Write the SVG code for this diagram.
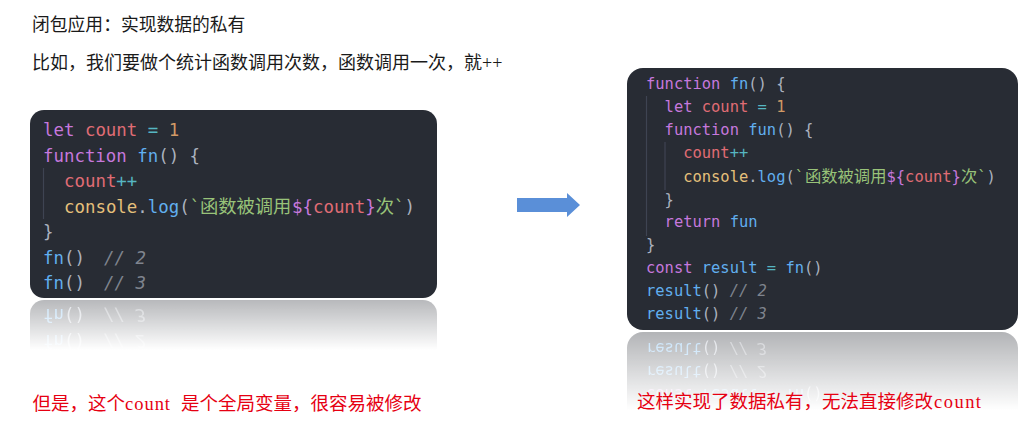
<svg xmlns="http://www.w3.org/2000/svg" xmlns:xlink="http://www.w3.org/1999/xlink" width="1031" height="426" viewBox="0 0 1031 426">
<style>
.code{font-family:"DejaVu Sans Mono","Liberation Mono",monospace;white-space:pre;}
.cl{font-size:17.4px;}
.cr{font-size:15.45px;}
.cjk{font-family:"Noto Sans CJK SC",sans-serif;}
.k{fill:#c678dd}.v{fill:#e06c75}.o{fill:#56b6c2}.n{fill:#d19a66}.f{fill:#61afef}.p{fill:#abb2bf}.y{fill:#e5c07b}.s{fill:#98c379}.c{fill:#7f848e;font-style:italic}
.box{fill:#282c34}
.guide{stroke:#3e4452;stroke-width:1.2}
.title{font-family:"Noto Sans CJK SC",sans-serif;fill:#1a1a1a}
.cap{font-family:"Noto Sans CJK SC",sans-serif;fill:#e60012;font-size:18.5px}
.lat{font-family:"Liberation Serif",serif}
</style>
<defs>
<linearGradient id="fadeL" x1="0" y1="299" x2="0" y2="350" gradientUnits="userSpaceOnUse">
<stop offset="0" stop-color="#fff" stop-opacity="0.34"/>
<stop offset="1" stop-color="#fff" stop-opacity="0"/>
</linearGradient>
<linearGradient id="fadeR" x1="0" y1="331" x2="0" y2="410" gradientUnits="userSpaceOnUse">
<stop offset="0" stop-color="#fff" stop-opacity="0.36"/>
<stop offset="1" stop-color="#fff" stop-opacity="0"/>
</linearGradient>
<mask id="mL" maskUnits="userSpaceOnUse" x="0" y="299" width="1031" height="60">
<rect x="0" y="299" width="1031" height="60" fill="url(#fadeL)"/>
</mask>
<mask id="mR" maskUnits="userSpaceOnUse" x="0" y="331" width="1031" height="85">
<rect x="0" y="331" width="1031" height="85" fill="url(#fadeR)"/>
</mask>
</defs>
<rect width="1031" height="426" fill="#fff"/>

<g id="title">
<text class="title" x="32" y="31" font-size="17.8">闭包应用：实现数据的私有</text>
</g>
<g id="subtitle">
<text class="title" x="32" y="69" font-size="18">比如，我们要做个统计函数调用次数，函数调用一次，就<tspan class="lat">++</tspan></text>
</g>

<g id="left-code">
<rect class="box" x="30" y="110" width="407" height="188" rx="14"/>
<line class="guide" x1="43.5" y1="168" x2="43.5" y2="219"/>
<g class="code cl">
<text x="43" y="136"><tspan class="k">let</tspan> <tspan class="v">count</tspan> <tspan class="o">=</tspan> <tspan class="n">1</tspan></text>
<text x="43" y="161.5"><tspan class="k">function</tspan> <tspan class="f">fn</tspan><tspan class="p">() {</tspan></text>
<text x="64" y="187"><tspan class="v">count</tspan><tspan class="o">++</tspan></text>
<text x="64" y="212.5"><tspan class="y">console</tspan><tspan class="p">.</tspan><tspan class="f">log</tspan><tspan class="p">(</tspan><tspan class="s">`</tspan><tspan class="s cjk" x="200" font-size="18.3">函数被调用</tspan><tspan class="k" x="292">${</tspan><tspan class="v">count</tspan><tspan class="k">}</tspan><tspan class="s cjk" font-size="18.3">次</tspan><tspan class="s">`</tspan><tspan class="p">)</tspan></text>
<text x="43" y="238"><tspan class="p">}</tspan></text>
<text x="43" y="263.5"><tspan class="f">fn</tspan><tspan class="p">()</tspan><tspan class="c" x="104">// 2</tspan></text>
<text x="43" y="289"><tspan class="f">fn</tspan><tspan class="p">()</tspan><tspan class="c" x="104">// 3</tspan></text>
</g>
</g>
<g id="left-reflection" mask="url(#mL)">
<use href="#left-code" xlink:href="#left-code" transform="matrix(1 0 0 -1 0 598)"/>
</g>

<g id="connectors">
<polygon points="517,198 567,198 567,193 580,205 567,217 567,212 517,212" fill="#5a8fd8"/>
</g>

<g id="right-code">
<rect class="box" x="627" y="68" width="391" height="262" rx="16"/>
<line class="guide" x1="646.5" y1="96" x2="646.5" y2="236"/>
<line class="guide" x1="665" y1="142" x2="665" y2="190"/>
<g class="code cr">
<text x="646" y="89"><tspan class="k">function</tspan> <tspan class="f">fn</tspan><tspan class="p">() {</tspan></text>
<text x="664.6" y="112"><tspan class="k">let</tspan> <tspan class="v">count</tspan> <tspan class="o">=</tspan> <tspan class="n">1</tspan></text>
<text x="664.6" y="135"><tspan class="k">function</tspan> <tspan class="f">fun</tspan><tspan class="p">() {</tspan></text>
<text x="683.2" y="158"><tspan class="v">count</tspan><tspan class="o">++</tspan></text>
<text x="683.2" y="182"><tspan class="y">console</tspan><tspan class="p">.</tspan><tspan class="f">log</tspan><tspan class="p">(</tspan><tspan class="s">`</tspan><tspan class="s cjk" x="805" font-size="16.3">函数被调用</tspan><tspan class="k" x="886.5">${</tspan><tspan class="v">count</tspan><tspan class="k">}</tspan><tspan class="s cjk" font-size="16.3">次</tspan><tspan class="s">`</tspan><tspan class="p">)</tspan></text>
<text x="664.6" y="205"><tspan class="p">}</tspan></text>
<text x="664.6" y="227"><tspan class="k">return</tspan> <tspan class="f">fun</tspan></text>
<text x="646" y="250"><tspan class="p">}</tspan></text>
<text x="646" y="273"><tspan class="k">const</tspan> <tspan class="f">result</tspan> <tspan class="o">=</tspan> <tspan class="f">fn</tspan><tspan class="p">()</tspan></text>
<text x="646" y="296"><tspan class="f">result</tspan><tspan class="p">()</tspan> <tspan class="c">// 2</tspan></text>
<text x="646" y="319"><tspan class="f">result</tspan><tspan class="p">()</tspan> <tspan class="c">// 3</tspan></text>
</g>
</g>
<g id="right-reflection" mask="url(#mR)">
<use href="#right-code" xlink:href="#right-code" transform="matrix(1 0 0 -1 0 662)"/>
</g>

<g id="caption-left">
<text class="cap" y="410"><tspan x="32.5">但是，这个</tspan><tspan class="lat" x="125" textLength="45">count</tspan><tspan x="181">是个全局变量，很容易被修改</tspan></text>
</g>
<g id="caption-right">
<text class="cap" y="408"><tspan x="637">这样实现了数据私有，无法直接修改</tspan><tspan class="lat" x="934" textLength="47">count</tspan></text>
</g>
</svg>
